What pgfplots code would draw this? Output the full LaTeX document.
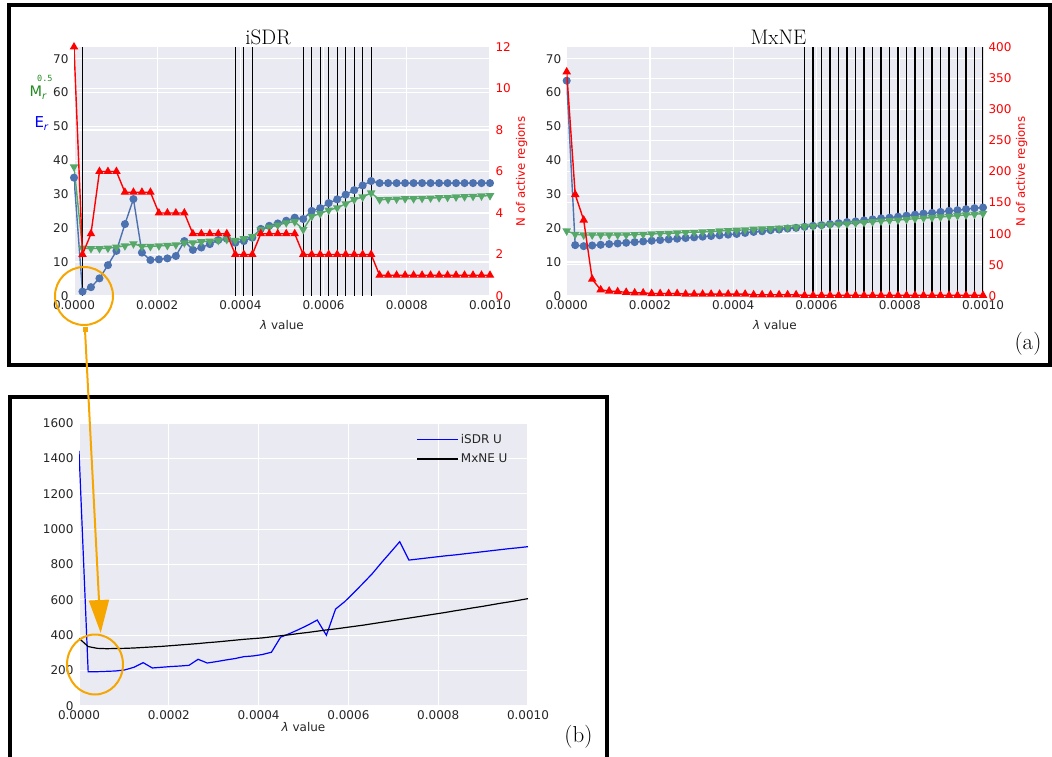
\documentclass[border=0pt]{standalone}
\usepackage{pgfplots}
\pgfplotsset{compat=1.18}
\usepackage{pgfplotstable}
\usepackage{fontspec}
\usetikzlibrary{arrows.meta}
\newfontfamily\dv{DejaVu Sans}
\newfontfamily\dvmono{DejaVu Sans Mono}
\definecolor{sbbg}{HTML}{EAEAF2}
\definecolor{sbblue}{HTML}{4C72B0}
\definecolor{sbgreen}{HTML}{55A868}
\definecolor{tickgray}{HTML}{262626}
\definecolor{lblgreen}{RGB}{34,139,34}
\definecolor{annor}{RGB}{246,166,0}
\newcommand{\tickfont}{\dv\fontsize{12}{14}\selectfont}

\pgfplotstableread{
lam Er Mr N
0.0000000 34.9 38.1 12
0.0000204 1.3 14.1 2
0.0000408 2.6 14.0 3
0.0000612 5.2 14.0 6
0.0000816 9.1 14.1 6
0.0001020 13.3 14.4 6
0.0001224 21.2 14.8 5
0.0001429 28.6 15.4 5
0.0001633 12.8 14.6 5
0.0001837 10.6 14.6 5
0.0002041 10.8 14.8 4
0.0002245 11.1 14.9 4
0.0002449 11.8 15.1 4
0.0002653 16.2 15.7 4
0.0002857 13.6 15.7 3
0.0003061 14.3 16.0 3
0.0003265 15.3 16.2 3
0.0003469 16.5 16.4 3
0.0003673 16.9 16.7 3
0.0003878 15.7 16.4 2
0.0004082 16.2 16.9 2
0.0004286 17.2 17.5 2
0.0004490 19.8 19.6 3
0.0004694 20.7 20.3 3
0.0004898 21.4 20.9 3
0.0005102 22.2 21.6 3
0.0005306 23.1 21.9 3
0.0005510 22.7 19.6 2
0.0005714 25.1 23.5 2
0.0005918 25.9 24.3 2
0.0006122 27.4 25.3 2
0.0006327 28.5 26.0 2
0.0006531 29.9 27.2 2
0.0006735 31.2 28.4 2
0.0006939 32.6 29.2 2
0.0007143 33.9 30.4 2
0.0007347 33.3 28.4 1
0.0007551 33.3 28.5 1
0.0007755 33.3 28.6 1
0.0007959 33.3 28.7 1
0.0008163 33.3 28.7 1
0.0008367 33.3 28.8 1
0.0008571 33.3 28.9 1
0.0008776 33.3 29.0 1
0.0008980 33.3 29.1 1
0.0009184 33.3 29.2 1
0.0009388 33.3 29.3 1
0.0009592 33.3 29.4 1
0.0009796 33.3 29.5 1
0.0010000 33.3 29.6 1
}\isdr

\pgfplotstableread{
lam Er Mr N
0.0000000 63.5 19.2 360
0.0000204 15.0 18.2 163
0.0000408 14.7 18.0 122
0.0000612 14.9 18.0 27
0.0000816 15.1 18.0 10
0.0001020 15.3 18.0 8
0.0001224 15.5 18.0 7
0.0001429 15.7 18.0 6
0.0001633 15.9 18.1 5
0.0001837 16.1 18.2 5
0.0002041 16.3 18.3 4
0.0002245 16.5 18.4 4
0.0002449 16.7 18.5 4
0.0002653 16.9 18.6 4
0.0002857 17.1 18.7 3
0.0003061 17.3 18.8 3
0.0003265 17.5 18.9 3
0.0003469 17.7 19.0 3
0.0003673 17.9 19.2 3
0.0003878 18.1 19.3 3
0.0004082 18.3 19.4 3
0.0004286 18.6 19.5 3
0.0004490 18.9 19.7 2
0.0004694 19.1 19.8 2
0.0004898 19.4 19.9 2
0.0005102 19.6 20.0 2
0.0005306 19.9 20.2 2
0.0005510 20.1 20.3 2
0.0005714 20.4 20.5 1
0.0005918 20.7 20.6 1
0.0006122 20.9 20.8 1
0.0006327 21.2 21.0 1
0.0006531 21.5 21.2 1
0.0006735 21.8 21.3 1
0.0006939 22.0 21.5 1
0.0007143 22.3 21.7 1
0.0007347 22.6 21.9 1
0.0007551 22.9 22.1 1
0.0007755 23.1 22.3 1
0.0007959 23.4 22.4 1
0.0008163 23.7 22.6 1
0.0008367 24.0 22.8 1
0.0008571 24.3 23.0 1
0.0008776 24.5 23.1 1
0.0008980 24.8 23.3 1
0.0009184 25.1 23.5 1
0.0009388 25.3 23.7 1
0.0009592 25.6 23.9 1
0.0009796 25.9 24.1 1
0.0010000 26.1 24.3 1
}\mxne

\pgfplotstableread{
lam isdrU mxneU
0.0000000 1443 383
0.0000204 194 336
0.0000408 194 326
0.0000612 196 324
0.0000816 198 325
0.0001020 204 326
0.0001224 219 328
0.0001429 245 331
0.0001633 215 334
0.0001837 219 337
0.0002041 223 341
0.0002245 226 345
0.0002449 230 349
0.0002653 264 353
0.0002857 243 358
0.0003061 251 362
0.0003265 260 367
0.0003469 268 372
0.0003673 279 377
0.0003878 283 381
0.0004082 291 385
0.0004286 304 391
0.0004490 389 397
0.0004694 410 403
0.0004898 433 410
0.0005102 458 416
0.0005306 486 423
0.0005510 400 430
0.0005714 548 436
0.0005918 590 443
0.0006122 641 450
0.0006327 694 457
0.0006531 748 465
0.0006735 810 473
0.0006939 869 481
0.0007143 929 489
0.0007347 825 497
0.0007551 831 505
0.0007755 837 513
0.0007959 843 521
0.0008163 849 529
0.0008367 854 538
0.0008571 860 546
0.0008776 866 555
0.0008980 872 563
0.0009184 878 572
0.0009388 884 581
0.0009592 890 589
0.0009796 895 598
0.0010000 901 607
}\uvals

\pgfplotsset{
  sb/.style={
    scale only axis,
    anchor=south west,
    axis background/.style={fill=sbbg},
    axis line style={draw=none},
    tick style={draw=none},
    major tick length=0pt,
    grid=major,
    major grid style={white, line width=1.2pt},
    tick label style={font=\tickfont, text=tickgray},
    /pgf/number format/assume math mode=true,
    /pgf/number format/1000 sep={},
    scaled x ticks=false,
    xmin=0, xmax=0.001,
    xtick={0,0.0002,0.0004,0.0006,0.0008,0.001},
    x tick label style={/pgf/number format/fixed, /pgf/number format/fixed zerofill, /pgf/number format/precision=4, yshift=-1.5pt},
    y tick label style={xshift=-2pt},
    every axis x label/.style={at={(rel axis cs:0.5,0)}, anchor=center, yshift=#1, font=\tickfont, text=tickgray},
    xlabel={{\itshape λ} value},
  },
  sb/.default=-29pt,
  twin/.style={
    scale only axis,
    anchor=south west,
    xmin=0, xmax=0.001,
    axis x line=none, axis y line*=right,
    axis line style={draw=none}, tick style={draw=none}, major tick length=0pt,
    tick label style={font=\tickfont, text=red},
    /pgf/number format/assume math mode=true,
    y tick label style={xshift=2pt},
    ylabel={N of active regions},
    every axis y label/.style={at={(rel axis cs:1,0.5)}, xshift=#1, rotate=90, anchor=center,
      font=\dv\fontsize{11.7}{14}\selectfont, text=red},
  },
  pblue/.style={sbblue, line width=1.4pt, mark=*, mark size=3.3pt, mark options={solid, fill=sbblue, draw=sbblue}},
  pgreen/.style={sbgreen, line width=1.4pt, mark=triangle*, mark size=3.6pt, mark options={solid, rotate=180, fill=sbgreen, draw=sbgreen}},
  pred/.style={red, line width=1.4pt, mark=triangle*, mark size=3.6pt, mark options={solid, fill=red, draw=red}},
}

\begin{document}
\begin{tikzpicture}[x=1pt,y=1pt]
\useasboundingbox (0,0) rectangle (1052,756);

% ---------- iSDR ----------
\begin{axis}[sb, at={(74pt,460pt)}, width=416pt, height=249pt,
  ymin=0, ymax=73.44, ytick={0,10,...,70},
  extra y ticks={12.24,24.48,36.72,48.96,61.2}, extra y tick labels={},
  extra y tick style={grid=major}]
\addplot[pblue] table[x=lam, y=Er] {\isdr};
\addplot[pgreen] table[x=lam, y=Mr] {\isdr};
\addplot[black, line width=1.3pt, ycomb, no marks] coordinates {
(0.0000204,73.44) (0.0003878,73.44) (0.0004082,73.44) (0.0004286,73.44)
(0.0005510,73.44) (0.0005714,73.44) (0.0005918,73.44) (0.0006122,73.44) (0.0006327,73.44)
(0.0006531,73.44) (0.0006735,73.44) (0.0006939,73.44) (0.0007143,73.44)};
\end{axis}
\begin{axis}[twin=31.7pt, at={(74pt,460pt)}, width=416pt, height=249pt,
  ymin=0, ymax=12, ytick={0,2,...,12}]
\addplot[pred] table[x=lam, y=N] {\isdr};
\end{axis}

% ---------- MxNE ----------
\begin{axis}[sb, at={(566.7pt,460pt)}, width=416.3pt, height=249pt,
  ymin=0, ymax=73.44, ytick={0,10,...,70},
  extra y ticks={9.18,18.36,27.54,36.72,45.9,55.08,64.26}, extra y tick labels={},
  extra y tick style={grid=major}]
\addplot[pblue] table[x=lam, y=Er] {\mxne};
\addplot[pgreen] table[x=lam, y=Mr] {\mxne};
\addplot[black, line width=1.3pt, ycomb, no marks] coordinates {
(0.0005714,73.44) (0.0005918,73.44) (0.0006122,73.44) (0.0006327,73.44) (0.0006531,73.44)
(0.0006735,73.44) (0.0006939,73.44) (0.0007143,73.44) (0.0007347,73.44) (0.0007551,73.44)
(0.0007755,73.44) (0.0007959,73.44) (0.0008163,73.44) (0.0008367,73.44) (0.0008571,73.44)
(0.0008776,73.44) (0.0008980,73.44) (0.0009184,73.44) (0.0009388,73.44) (0.0009592,73.44)
(0.0009796,73.44) (0.0010000,73.44)};
\end{axis}
\begin{axis}[twin=38.7pt, at={(566.7pt,460pt)}, width=416.3pt, height=249pt,
  ymin=0, ymax=400, ytick={0,50,...,400}]
\addplot[pred] table[x=lam, y=N] {\mxne};
\end{axis}

% ---------- U ----------
\begin{axis}[sb=-21pt, at={(79pt,50pt)}, width=449pt, height=283pt,
  ymin=0, ymax=1600, ytick={0,200,...,1600},
  legend style={at={(rel axis cs:0.745,0.975)}, anchor=north west, draw=none, fill=none,
    font=\tickfont, text=tickgray, row sep=5pt},
  legend cell align=left,
  legend image code/.code={\draw[#1] (0pt,0pt) -- (31pt,0pt); \path (0pt,0pt) -- (41pt,0pt);}]
\addplot[blue, line width=1.2pt, no marks] table[x=lam, y=isdrU] {\uvals};
\addlegendentry{iSDR U}
\addplot[black, line width=1.2pt, no marks] table[x=lam, y=mxneU] {\uvals};
\addlegendentry{MxNE U}
\end{axis}

% ---------- titles and labels ----------
\node[anchor=base, font=\fontsize{21}{25}\selectfont] at (268,711) {iSDR};
\node[anchor=base, font=\fontsize{21}{25}\selectfont] at (778.5,711) {MxNE};
\node[anchor=base, font=\fontsize{23}{27}\selectfont] at (1028,406) {(a)};
\node[anchor=base, font=\fontsize{23}{27}\selectfont] at (578.5,14) {(b)};
\node[anchor=base west, inner sep=0pt, text=lblgreen] at (29.3,659.3)
  {\dv\fontsize{14.5}{16}\selectfont M\raisebox{-3pt}{\fontsize{10}{12}\selectfont\itshape r}};
\node[anchor=base west, inner sep=0pt, text=lblgreen] at (37,674)
  {\dvmono\fontsize{8.5}{9}\selectfont 0.5};
\node[anchor=base west, inner sep=0pt, text=blue] at (34.3,628.3)
  {\dv\fontsize{15}{16}\selectfont E\raisebox{-3pt}{\fontsize{10}{12}\selectfont\itshape r}};

% ---------- frames ----------
\draw[line width=4pt] (9,750.5) rectangle (1050,391);
\draw[line width=4pt] (10,-10) -- (10,359) -- (606.5,359) -- (606.5,-10);

% ---------- annotation ----------
\draw[annor, line width=2pt] (84,460) circle (29);
\draw[annor, line width=2pt] (95,91.5) ellipse (28 and 30);
\draw[annor, line width=2pt, -{Triangle[length=33pt,width=20pt]}] (85,426) -- (100.7,123);
\fill[annor] (82.5,423.5) rectangle (87.5,428.5);
\end{tikzpicture}
\end{document}
